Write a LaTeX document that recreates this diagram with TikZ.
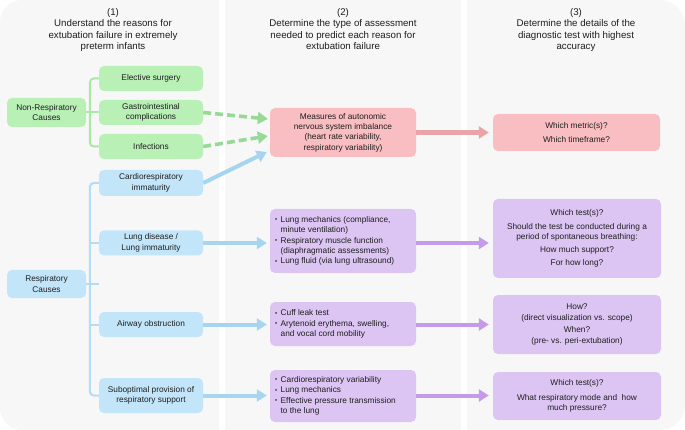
\documentclass[tikz,border=0pt]{standalone}
\usepackage{fontspec}
\setmainfont{Liberation Sans}
\usetikzlibrary{arrows.meta,calc}
\definecolor{bgc}{HTML}{F7F7F7}
\definecolor{gfill}{HTML}{B8F0B5}
\definecolor{bfill}{HTML}{C3E5F9}
\definecolor{pfill}{HTML}{F9BEC2}
\definecolor{vfill}{HTML}{DCC5F3}
\definecolor{gline}{HTML}{A9E8A6}
\definecolor{bline}{HTML}{B3DDF5}
\definecolor{garr}{HTML}{98DA95}
\definecolor{barr}{HTML}{A6D5EF}
\definecolor{parr}{HTML}{E8A4A9}
\definecolor{varr}{HTML}{C59BE9}
\definecolor{txt}{HTML}{1E1E1E}
\newcommand\bul{\raisebox{0.6pt}{\scalebox{0.75}{\textbullet}}}
\begin{document}
\begin{tikzpicture}[x=1pt,y=-1pt,
  box/.style={rounded corners=5pt, inner sep=0pt, align=center, text=txt,
    font=\fontsize{8.3}{10.4}\selectfont},
  gbox/.style={box, fill=gfill, minimum width=104pt, minimum height=25pt},
  bbox/.style={box, fill=bfill, minimum width=104pt, minimum height=25pt},
  cbox/.style={box, minimum width=79pt},
  mbox/.style={box, minimum width=146pt},
  rbox/.style={box, minimum width=168pt},
  btxt/.style={anchor=west, inner sep=0pt, text=txt, font=\fontsize{8.3}{10.4}\selectfont},
  head/.style={anchor=north, inner sep=0pt, align=center, text=txt,
    font=\fontsize{9.7}{11.5}\selectfont},
  tip/.style={-{Triangle[length=10pt,width=12pt]}},
  garrow/.style={tip, draw=garr, line width=3.6pt, dash pattern=on 8pt off 4pt},
  barrow/.style={tip, draw=barr, line width=4pt},
  parrow/.style={tip, draw=parr, line width=4.4pt},
  varrow/.style={tip, draw=varr, line width=4pt},
  gbr/.style={draw=gline, line width=2pt, rounded corners=4pt},
  bbr/.style={draw=bline, line width=2pt, rounded corners=4pt}]
\useasboundingbox (0,0) rectangle (685,430);
% panels
\fill[bgc, rounded corners=22pt] (0,0) rectangle (219,430);
\fill[bgc] (100,0) rectangle (219,430);
\fill[bgc] (225,0) rectangle (461,430);
\fill[bgc, rounded corners=25pt] (467,0) rectangle (685,430);
\fill[bgc] (467,0) rectangle (600,430);
% headers
\node[head] (h1) at (113,8) {(1)\\Understand the reasons for\\extubation failure in extremely\\preterm infants};
\node[head] (h2) at (343,8) {(2)\\Determine the type of assessment\\needed to predict each reason for\\extubation failure};
\node[head] (h3) at (576,8) {(3)\\Determine the details of the\\diagnostic test with highest\\accuracy};
% column 1
\node[cbox, fill=gfill, minimum height=29pt] (nonresp) at (46.5,112.5) {Non-Respiratory\\Causes};
\node[gbox] (elective) at (151,78.5) {Elective surgery};
\node[gbox] (gastro) at (151,112.5) {Gastrointestinal\\complications};
\node[gbox] (infect) at (151,146.5) {Infections};
\node[bbox, minimum height=26pt] (cardio) at (151,183) {Cardiorespiratory\\immaturity};
\node[bbox] (lung) at (151,243) {Lung disease /\\Lung immaturity};
\node[cbox, fill=bfill, minimum height=28pt] (resp) at (46.5,284) {Respiratory\\Causes};
\node[bbox] (airway) at (151,324.5) {Airway obstruction};
\node[bbox, minimum height=35pt] (subopt) at (151,395.5) {Suboptimal provision of\\respiratory support};
% brackets
\draw[gbr] (elective.west) -- ++(-9,0) |- (infect.west);
\draw[gbr] (nonresp.east) -- (gastro.west);
\draw[bbr] (cardio.west) -- ++(-9,0) |- (subopt.west);
\draw[bbr] (lung.west) -- ++(-9,0);
\draw[bbr] (airway.west) -- ++(-9,0);
\draw[bbr] (resp.east) -- (resp.east -| cardio.west);
% column 2
\node[mbox, fill=pfill, minimum height=49pt] (measures) at (343,132.5) {Measures of autonomic\\nervous system imbalance\\(heart rate variability,\\respiratory variability)};
\node[mbox, fill=vfill, minimum height=64pt] (lungmech) at (343,241) {};
\node[btxt] (lungmechT) at ($(lungmech.west)+(5,0)$) {\begin{tabular}{@{}l@{\hspace{3.5pt}}l@{}}
\bul & Lung mechanics (compliance,\\ & minute ventilation)\\
\bul & Respiratory muscle function\\ & (diaphragmatic assessments)\\
\bul & Lung fluid (via lung ultrasound)\end{tabular}};
\node[mbox, fill=vfill, minimum height=44pt] (cuff) at (343,324) {};
\node[btxt] (cuffT) at ($(cuff.west)+(5,0)$) {\begin{tabular}{@{}l@{\hspace{3.5pt}}l@{}}
\bul & Cuff leak test\\
\bul & Arytenoid erythema, swelling,\\ & and vocal cord mobility\end{tabular}};
\node[mbox, fill=vfill, minimum height=52pt] (cardvar) at (343,396) {};
\node[btxt] (cardvarT) at ($(cardvar.west)+(5,0)$) {\begin{tabular}{@{}l@{\hspace{3.5pt}}l@{}}
\bul & Cardiorespiratory variability\\
\bul & Lung mechanics\\
\bul & Effective pressure transmission\\ & to the lung\end{tabular}};
% column 3
\node[rbox, fill=pfill, minimum width=167pt, minimum height=37pt] (metric) at (576.5,132.5) {Which metric(s)?\\[3.5pt]Which timeframe?};
\node[rbox, fill=vfill, minimum height=79pt] (r1) at (577,238.5) {Which test(s)?\\[3pt]Should the test be conducted during a\\period of spontaneous breathing:\\[2.5pt]How much support?\\[2.5pt]For how long?};
\node[rbox, fill=vfill, minimum height=59pt] (r2) at (577,324.5) {How?\\(direct visualization vs. scope)\\[2pt]When?\\(pre- vs. peri-extubation)};
\node[rbox, fill=vfill, minimum height=48pt] (r3) at (577,396) {Which test(s)?\\[4pt]What respiratory mode and~~how\\much pressure?};
% arrows
\draw[garrow] (gastro.east) -- ($(measures.west)+(-2,-13.5)$);
\draw[garrow] (infect.east) -- ($(measures.west)+(-2,3.5)$);
\draw[barrow] (cardio.east) -- ($(measures.west)+(-3,19.5)$);
\draw[barrow] (lung.east) -- ($(lung.east -| lungmech.west)+(-3,0)$);
\draw[barrow] (airway.east) -- ($(airway.east -| cuff.west)+(-3,0)$);
\draw[barrow] (subopt.east) -- ($(subopt.east -| cardvar.west)+(-3,0)$);
\draw[parrow] (measures.east) -- ($(measures.east -| metric.west)+(-4,0)$);
\draw[varrow] (lungmech.east |- lung.east) -- ($(lung.east -| r1.west)+(-4,0)$);
\draw[varrow] (cuff.east |- airway.east) -- ($(airway.east -| r2.west)+(-4,0)$);
\draw[varrow] (cardvar.east |- subopt.east) -- ($(subopt.east -| r3.west)+(-4,0)$);
\end{tikzpicture}
\end{document}
